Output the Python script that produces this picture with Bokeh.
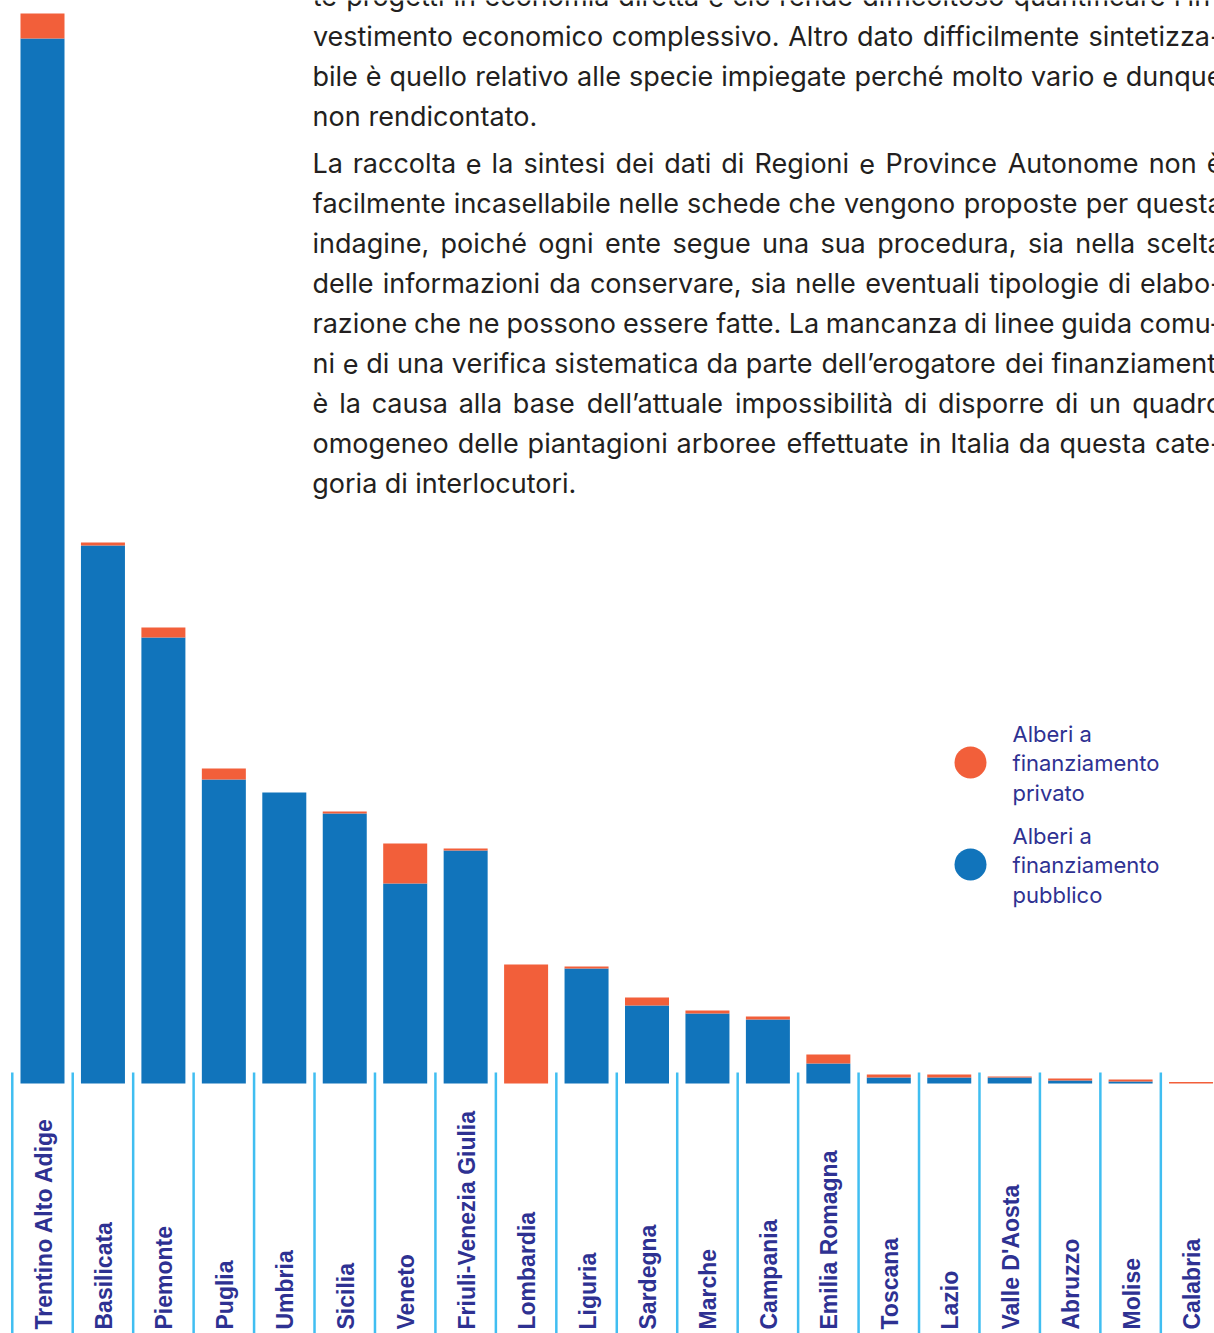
import os
import glob
import struct
import subprocess
import numpy as np
from bokeh.plotting import figure
from bokeh.models import ColumnDataSource, Range1d
from bokeh.core.properties import value
from bokeh.embed import file_html
from bokeh.resources import INLINE

# ---------------- data ----------------
regioni = ["Trentino Alto Adige", "Basilicata", "Piemonte", "Puglia", "Umbria",
           "Sicilia", "Veneto", "Friuli-Venezia Giulia", "Lombardia", "Liguria",
           "Sardegna", "Marche", "Campania", "Emilia Romagna", "Toscana", "Lazio",
           "Valle D'Aosta", "Abruzzo", "Molise", "Calabria"]
pubblico = [1045, 538, 446, 304, 291, 270, 200, 233, 0, 115,
            78, 70, 64, 20, 6, 6, 6, 3, 2, 0]
privato = [25, 3, 10, 11, 0, 2, 40, 2, 119, 2,
           8, 3, 3, 9, 3, 3, 1, 2, 2, 1.5]

paragrafo1 = [
    "te progetti in economia diretta e ciò rende difficoltoso quantificare l’in-",
    "vestimento economico complessivo. Altro dato difficilmente sintetizza-",
    "bile è quello relativo alle specie impiegate perché molto vario e dunque",
    "non rendicontato.",
]
paragrafo2 = [
    "La raccolta e la sintesi dei dati di Regioni e Province Autonome non è",
    "facilmente incasellabile nelle schede che vengono proposte per questa",
    "indagine, poiché ogni ente segue una sua procedura, sia nella scelta",
    "delle informazioni da conservare, sia nelle eventuali tipologie di elabo-",
    "razione che ne possono essere fatte. La mancanza di linee guida comu-",
    "ni e di una verifica sistematica da parte dell’erogatore dei finanziamenti",
    "è la causa alla base dell’attuale impossibilità di disporre di un quadro",
    "omogeneo delle piantagioni arboree effettuate in Italia da questa cate-",
    "goria di interlocutori.",
]
legenda_privato = ["Alberi a", "finanziamento", "privato"]
legenda_pubblico = ["Alberi a", "finanziamento", "pubblico"]

# ---------------- style / layout ----------------
BLUE = "#1174BB"
ORANGE = "#F25F3A"
INDIGO = "#2E3192"
SEP = "#2BB7EF"
TXT = "#231F20"

W, H = 1214, 1333
PITCH = 60.45
X0 = -42 / PITCH
BASE = 1083


def px(xpage):
    return X0 + xpage / PITCH


def py(ypage):
    return BASE - ypage


p = figure(width=W, height=H, x_range=Range1d(X0, X0 + W / PITCH),
           y_range=Range1d(BASE - H, BASE),
           output_backend="svg", toolbar_location=None, min_border=0,
           x_axis_location=None, y_axis_location=None,
           outline_line_color=None, background_fill_color="white",
           border_fill_color="white")
p.grid.visible = False

idx = list(range(len(regioni)))
src = ColumnDataSource(dict(x=idx, pubblico=pubblico, privato=privato))
p.vbar_stack(["pubblico", "privato"], x="x", width=44 / PITCH, source=src,
             fill_color=[BLUE, ORANGE], line_color=None)

# separators between categories
sx = [i - 0.5 for i in idx]
p.segment(x0=sx, y0=[py(1072)] * len(sx), x1=sx, y1=[py(1333)] * len(sx),
          line_color=SEP, line_width=2.5, line_alpha=0.9)

# category labels
p.text(x=idx, y=[py(1329)] * len(idx), text=regioni, angle=np.pi / 2,
       text_align="left", text_baseline="middle", x_offset=1,
       text_font=value("Liberation Sans"), text_font_style="bold",
       text_font_size="23px", text_color=INDIGO)

# ---------------- font metrics for justified text ----------------
FS = 27
EM = {
    " ": 0.28, "a": 0.561, "b": 0.608, "c": 0.557, "d": 0.608, "e": 0.574,
    "f": 0.339, "g": 0.608, "h": 0.585, "i": 0.227, "j": 0.227, "k": 0.517,
    "l": 0.227, "m": 0.876, "n": 0.585, "o": 0.589, "p": 0.608, "q": 0.608,
    "r": 0.363, "s": 0.526, "t": 0.347, "u": 0.585, "v": 0.537, "w": 0.795,
    "x": 0.517, "y": 0.537, "z": 0.521, "A": 0.676, "I": 0.252, "L": 0.529,
    "P": 0.634, "R": 0.643, ".": 0.252, ",": 0.252, "-": 0.428, "’": 0.227,
    "è": 0.574, "é": 0.574, "à": 0.561, "ò": 0.589,
}


def find_font(name):
    try:
        f = subprocess.run(["fc-match", "-f", "%{file}", name],
                           capture_output=True, text=True, timeout=10).stdout.strip()
        if f and os.path.exists(f) and "inter" in os.path.basename(f).lower():
            return f
    except Exception:
        pass
    for pat in ["/usr/share/fonts/**/Inter*", "/usr/local/share/fonts/**/Inter*",
                os.path.expanduser("~/.fonts/**/Inter*"),
                os.path.expanduser("~/.local/share/fonts/**/Inter*")]:
        c = [x for x in glob.glob(pat, recursive=True)
             if x.lower().endswith((".ttf", ".otf", ".ttc"))]
        c.sort(key=lambda s: (("regular" not in s.lower() and "variable" not in s.lower()
                               and not s.lower().endswith("inter.ttf")), len(s)))
        if c:
            return c[0]
    return None


def load_widths(path):
    data = open(path, "rb").read()
    off = 0
    if data[:4] == b"ttcf":
        off = struct.unpack(">I", data[12:16])[0]
    nt = struct.unpack(">H", data[off + 4:off + 6])[0]
    tables = {}
    for i in range(nt):
        rec = data[off + 12 + 16 * i: off + 28 + 16 * i]
        tag = rec[:4].decode("latin1")
        _, o, ln = struct.unpack(">III", rec[4:16])
        tables[tag] = o
    upem = struct.unpack(">H", data[tables["head"] + 18: tables["head"] + 20])[0]
    nhm = struct.unpack(">H", data[tables["hhea"] + 34: tables["hhea"] + 36])[0]
    ho = tables["hmtx"]
    adv = [struct.unpack(">H", data[ho + 4 * i: ho + 4 * i + 2])[0] for i in range(nhm)]
    co = tables["cmap"]
    n = struct.unpack(">H", data[co + 2: co + 4])[0]
    subs = {}
    for i in range(n):
        pid, eid, so = struct.unpack(">HHI", data[co + 4 + 8 * i: co + 12 + 8 * i])
        fmt = struct.unpack(">H", data[co + so: co + so + 2])[0]
        subs[fmt] = co + so
    chars = set("".join(paragrafo1 + paragrafo2)) | {" "}
    out = {}
    if 12 in subs:
        s = subs[12]
        ng = struct.unpack(">I", data[s + 12: s + 16])[0]
        groups = [struct.unpack(">III", data[s + 16 + 12 * g: s + 28 + 12 * g]) for g in range(ng)]
        for ch in chars:
            c = ord(ch)
            for a, b, g0 in groups:
                if a <= c <= b:
                    gid = g0 + c - a
                    out[ch] = adv[min(gid, nhm - 1)] / upem
                    break
    elif 4 in subs:
        s = subs[4]
        sc = struct.unpack(">H", data[s + 6: s + 8])[0] // 2
        ends = struct.unpack(">%dH" % sc, data[s + 14: s + 14 + 2 * sc])
        st0 = s + 16 + 2 * sc
        starts = struct.unpack(">%dH" % sc, data[st0: st0 + 2 * sc])
        deltas = struct.unpack(">%dh" % sc, data[st0 + 2 * sc: st0 + 4 * sc])
        ro0 = st0 + 4 * sc
        ros = struct.unpack(">%dH" % sc, data[ro0: ro0 + 2 * sc])
        for ch in chars:
            c = ord(ch)
            for k in range(sc):
                if starts[k] <= c <= ends[k]:
                    if ros[k] == 0:
                        gid = (c + deltas[k]) & 0xFFFF
                    else:
                        addr = ro0 + 2 * k + ros[k] + 2 * (c - starts[k])
                        gid = struct.unpack(">H", data[addr: addr + 2])[0]
                        if gid:
                            gid = (gid + deltas[k]) & 0xFFFF
                    out[ch] = adv[min(gid, nhm - 1)] / upem
                    break
    return out


METRICS = None
try:
    fp = find_font("Inter")
    if fp:
        m = load_widths(fp)
        if len(m) > 20:
            METRICS = m
except Exception:
    METRICS = None
if METRICS is None:
    METRICS = {k: v * 0.94 for k, v in EM.items()}


def wpx(word):
    return sum(METRICS.get(c, 0.53) for c in word) * FS


L, R = 312, 1222
tx, ty, tt = [], [], []


def add_par(lines, first_baseline):
    for k, line in enumerate(lines):
        yb = py(first_baseline + 40 * k)
        words = line.split(" ")
        ws = [wpx(w) for w in words]
        if k == len(lines) - 1:
            gap = METRICS.get(" ", 0.26) * FS
        else:
            gap = (R - L - sum(ws)) / (len(words) - 1)
        cur = L
        for w, wd in zip(words, ws):
            tx.append(px(cur + wd / 2)); ty.append(yb); tt.append(w)
            cur += wd + gap


add_par(paragrafo1, -4)
add_par(paragrafo2, 163)

psrc = ColumnDataSource(dict(x=tx, y=ty, text=tt))
p.text(x="x", y="y", text="text", text_align="center", source=psrc,
       text_baseline="alphabetic", text_font=value("Inter"),
       text_font_size=f"{FS}px", text_color=TXT)

# ---------------- legend ----------------
p.scatter(x=[px(970), px(970)], y=[py(762), py(864)], size=32,
          fill_color=[ORANGE, BLUE], line_color=None)
leg_lines = legenda_privato + legenda_pubblico
leg_y = [py(733), py(762.5), py(792), py(835), py(864.5), py(894)]
p.text(x=[px(1012)] * 6, y=leg_y, text=leg_lines, text_align="left",
       text_baseline="alphabetic", text_font=value("Inter"),
       text_font_size="22px", text_color=INDIGO)

open("out.html", "w").write(file_html(p, INLINE))
